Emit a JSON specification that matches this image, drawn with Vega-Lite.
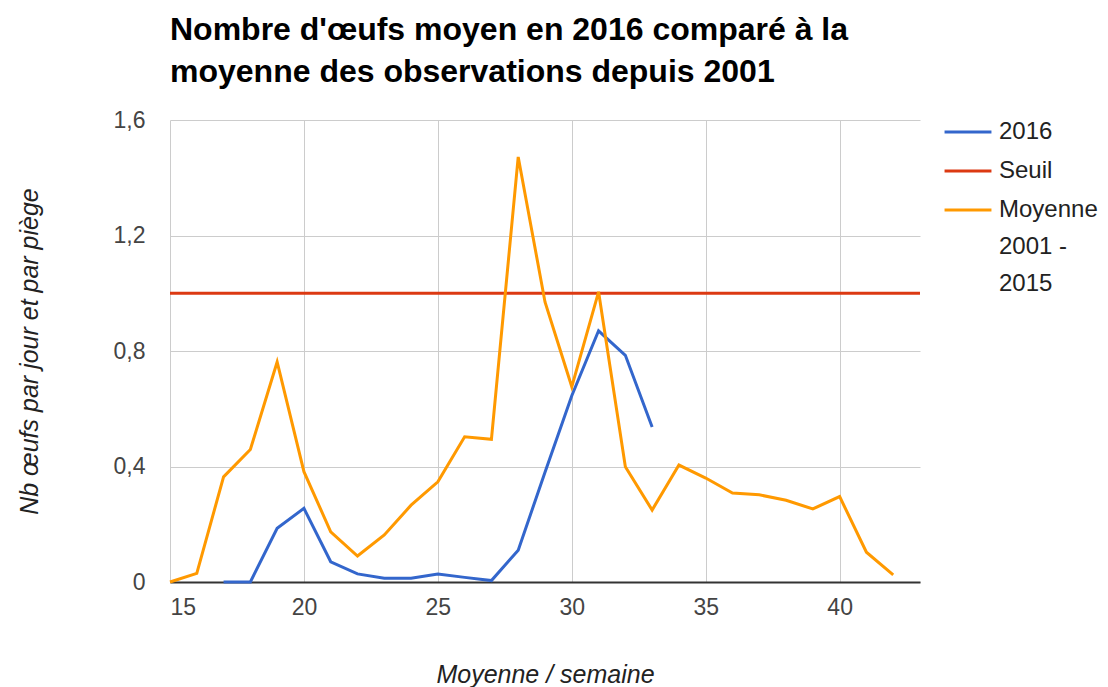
{
  "$schema": "https://vega.github.io/schema/vega-lite/v6.json",
  "width": 750,
  "height": 462,
  "autosize": {"type": "none"},
  "padding": {"left": 170, "top": 120, "right": 188, "bottom": 105},
  "background": "white",
  "config": {
    "font": "Liberation Sans",
    "view": {"stroke": null}
  },
  "title": {
    "text": ["Nombre d'œufs moyen en 2016 comparé à la", "moyenne des observations depuis 2001"],
    "anchor": "start",
    "frame": "group",
    "fontSize": 32,
    "fontWeight": "bold",
    "color": "#000000",
    "lineHeight": 42,
    "offset": 18,
    "font": "Liberation Sans"
  },
  "data": {
    "values": [
      {"semaine": 17, "serie": "2016", "valeur": 0},
      {"semaine": 18, "serie": "2016", "valeur": 0},
      {"semaine": 19, "serie": "2016", "valeur": 0.186},
      {"semaine": 20, "serie": "2016", "valeur": 0.255},
      {"semaine": 21, "serie": "2016", "valeur": 0.07},
      {"semaine": 22, "serie": "2016", "valeur": 0.028},
      {"semaine": 23, "serie": "2016", "valeur": 0.013},
      {"semaine": 24, "serie": "2016", "valeur": 0.013},
      {"semaine": 25, "serie": "2016", "valeur": 0.028},
      {"semaine": 26, "serie": "2016", "valeur": 0.016},
      {"semaine": 27, "serie": "2016", "valeur": 0.005},
      {"semaine": 28, "serie": "2016", "valeur": 0.11},
      {"semaine": 29, "serie": "2016", "valeur": 0.38},
      {"semaine": 30, "serie": "2016", "valeur": 0.645},
      {"semaine": 31, "serie": "2016", "valeur": 0.87},
      {"semaine": 32, "serie": "2016", "valeur": 0.785},
      {"semaine": 33, "serie": "2016", "valeur": 0.537},
      {"semaine": 15, "serie": "Seuil", "valeur": 1},
      {"semaine": 43, "serie": "Seuil", "valeur": 1},
      {"semaine": 15, "serie": "Moyenne 2001 - 2015", "valeur": 0},
      {"semaine": 16, "serie": "Moyenne 2001 - 2015", "valeur": 0.03},
      {"semaine": 17, "serie": "Moyenne 2001 - 2015", "valeur": 0.364},
      {"semaine": 18, "serie": "Moyenne 2001 - 2015", "valeur": 0.459},
      {"semaine": 19, "serie": "Moyenne 2001 - 2015", "valeur": 0.762},
      {"semaine": 20, "serie": "Moyenne 2001 - 2015", "valeur": 0.382},
      {"semaine": 21, "serie": "Moyenne 2001 - 2015", "valeur": 0.174},
      {"semaine": 22, "serie": "Moyenne 2001 - 2015", "valeur": 0.09},
      {"semaine": 23, "serie": "Moyenne 2001 - 2015", "valeur": 0.163},
      {"semaine": 24, "serie": "Moyenne 2001 - 2015", "valeur": 0.266},
      {"semaine": 25, "serie": "Moyenne 2001 - 2015", "valeur": 0.347},
      {"semaine": 26, "serie": "Moyenne 2001 - 2015", "valeur": 0.503},
      {"semaine": 27, "serie": "Moyenne 2001 - 2015", "valeur": 0.494},
      {"semaine": 28, "serie": "Moyenne 2001 - 2015", "valeur": 1.472},
      {"semaine": 29, "serie": "Moyenne 2001 - 2015", "valeur": 0.97},
      {"semaine": 30, "serie": "Moyenne 2001 - 2015", "valeur": 0.676},
      {"semaine": 31, "serie": "Moyenne 2001 - 2015", "valeur": 1.005},
      {"semaine": 32, "serie": "Moyenne 2001 - 2015", "valeur": 0.399},
      {"semaine": 33, "serie": "Moyenne 2001 - 2015", "valeur": 0.249},
      {"semaine": 34, "serie": "Moyenne 2001 - 2015", "valeur": 0.405},
      {"semaine": 35, "serie": "Moyenne 2001 - 2015", "valeur": 0.36},
      {"semaine": 36, "serie": "Moyenne 2001 - 2015", "valeur": 0.308},
      {"semaine": 37, "serie": "Moyenne 2001 - 2015", "valeur": 0.302},
      {"semaine": 38, "serie": "Moyenne 2001 - 2015", "valeur": 0.283},
      {"semaine": 39, "serie": "Moyenne 2001 - 2015", "valeur": 0.253},
      {"semaine": 40, "serie": "Moyenne 2001 - 2015", "valeur": 0.296},
      {"semaine": 41, "serie": "Moyenne 2001 - 2015", "valeur": 0.103},
      {"semaine": 42, "serie": "Moyenne 2001 - 2015", "valeur": 0.025}
    ]
  },
  "mark": {"type": "line", "strokeWidth": 3, "strokeJoin": "miter", "clip": false},
  "encoding": {
    "x": {
      "field": "semaine",
      "type": "quantitative",
      "scale": {"domain": [15, 43], "nice": false, "zero": false},
      "axis": {
        "values": [15, 20, 25, 30, 35, 40],
        "title": "Moyenne / semaine",
        "titleFont": "Liberation Sans",
        "titleFontSize": 25,
        "titleFontStyle": "italic",
        "titleFontWeight": "normal",
        "titleColor": "#222222",
        "titlePadding": 43,
        "labelFont": "Liberation Sans",
        "labelFontSize": 23,
        "labelColor": "#444444",
        "labelPadding": 14,
        "ticks": false,
        "domainColor": "#333333",
        "domainWidth": 2,
        "grid": true,
        "gridColor": "#cccccc",
        "gridWidth": 1
      }
    },
    "y": {
      "field": "valeur",
      "type": "quantitative",
      "scale": {"domain": [0, 1.6], "nice": false},
      "axis": {
        "values": [0, 0.4, 0.8, 1.2, 1.6],
        "labelExpr": "datum.value == 0 ? '0' : replace(format(datum.value, '.1f'), '.', ',')",
        "title": "Nb œufs par jour et par piège",
        "titleFont": "Liberation Sans",
        "titleFontSize": 25,
        "titleFontStyle": "italic",
        "titleFontWeight": "normal",
        "titleColor": "#222222",
        "titlePadding": 71,
        "labelFont": "Liberation Sans",
        "labelFontSize": 23,
        "labelColor": "#444444",
        "labelPadding": 25,
        "ticks": false,
        "domain": false,
        "grid": true,
        "gridColor": "#cccccc",
        "gridWidth": 1
      }
    },
    "color": {
      "field": "serie",
      "type": "nominal",
      "scale": {
        "domain": ["2016", "Seuil", "Moyenne 2001 - 2015"],
        "range": ["#3366cc", "#dc3912", "#ff9900"]
      },
      "legend": {
        "title": null,
        "orient": "none",
        "legendX": 773,
        "legendY": -13,
        "symbolType": "stroke",
        "symbolSize": 2200,
        "symbolStrokeWidth": 3,
        "labelFont": "Liberation Sans",
        "labelFontSize": 24,
        "labelColor": "#222222",
        "labelOffset": 6,
        "labelLimit": 200,
        "labelBaseline": "top",
        "rowPadding": 2,
        "labelExpr": "datum.label == 'Moyenne 2001 - 2015' ? ['Moyenne', '2001 -', '2015'] : datum.label",
        "encode": {
          "labels": {"update": {"lineHeight": {"value": 37}, "dy": {"value": -12}}}
        }
      }
    }
  }
}
